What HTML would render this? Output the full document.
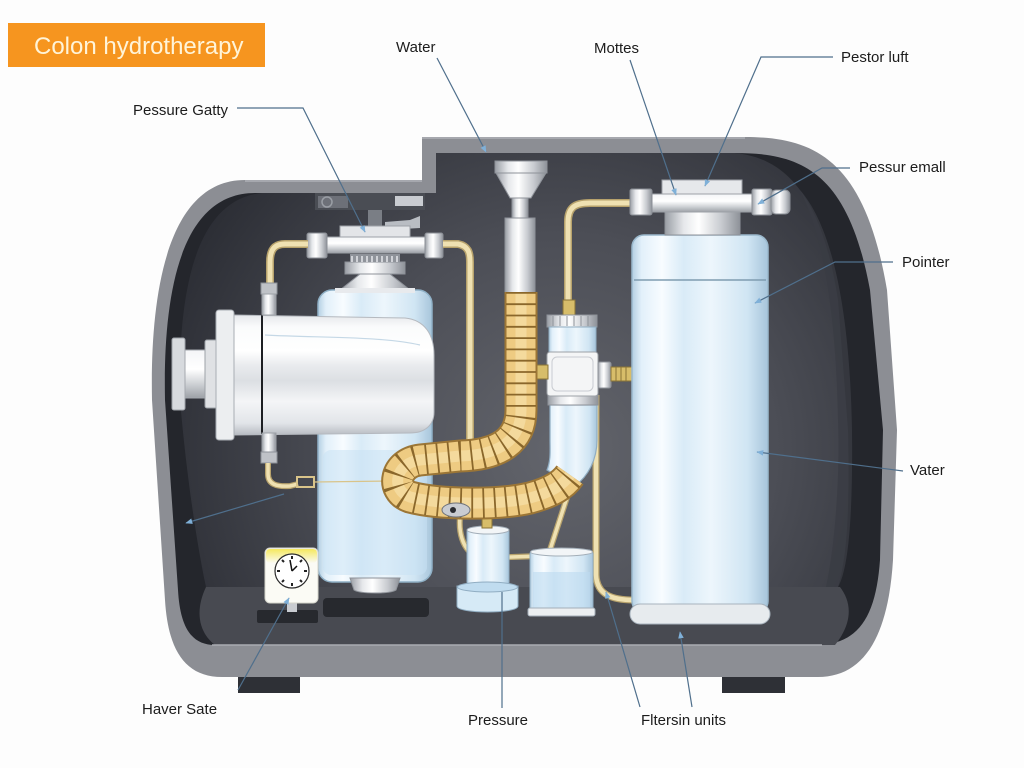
<!DOCTYPE html>
<html><head><meta charset="utf-8"><style>
html,body{margin:0;padding:0;background:#fdfdfd;}
svg{display:block}
text{font-family:"Liberation Sans",sans-serif;fill:#1c1c1c;font-size:15px}
</style></head><body>
<svg width="1024" height="768" viewBox="0 0 1024 768" xmlns="http://www.w3.org/2000/svg">
<defs>
 <radialGradient id="wall" cx="560" cy="450" r="430" gradientUnits="userSpaceOnUse">
  <stop offset="0" stop-color="#63656c"/>
  <stop offset="0.5" stop-color="#4c4e56"/>
  <stop offset="1" stop-color="#2a2c33"/>
 </radialGradient>
 <linearGradient id="glass" x1="0" x2="1" y1="0" y2="0">
  <stop offset="0" stop-color="#b4cfe2"/>
  <stop offset="0.07" stop-color="#e2f0fa"/>
  <stop offset="0.22" stop-color="#f8fcff"/>
  <stop offset="0.38" stop-color="#d9ebf7"/>
  <stop offset="0.58" stop-color="#edf6fc"/>
  <stop offset="0.85" stop-color="#d0e5f3"/>
  <stop offset="1" stop-color="#a7c5db"/>
 </linearGradient>
 <linearGradient id="metal" x1="0" x2="1" y1="0" y2="0">
  <stop offset="0" stop-color="#9a9ea5"/>
  <stop offset="0.25" stop-color="#e6e8eb"/>
  <stop offset="0.45" stop-color="#ffffff"/>
  <stop offset="0.75" stop-color="#c8cbd0"/>
  <stop offset="1" stop-color="#8e9299"/>
 </linearGradient>
 <linearGradient id="metalV" x1="0" x2="0" y1="0" y2="1">
  <stop offset="0" stop-color="#f4f5f7"/>
  <stop offset="0.4" stop-color="#ffffff"/>
  <stop offset="0.7" stop-color="#cfd2d6"/>
  <stop offset="1" stop-color="#9da1a7"/>
 </linearGradient>
 <linearGradient id="motor" x1="0" x2="0" y1="0" y2="1">
  <stop offset="0" stop-color="#e6e8eb"/>
  <stop offset="0.1" stop-color="#fafbfc"/>
  <stop offset="0.3" stop-color="#ffffff"/>
  <stop offset="0.42" stop-color="#e9ebee"/>
  <stop offset="0.55" stop-color="#dcdfe3"/>
  <stop offset="0.72" stop-color="#f4f5f7"/>
  <stop offset="0.9" stop-color="#e2e5e9"/>
  <stop offset="1" stop-color="#b7bbc1"/>
 </linearGradient>
 <linearGradient id="clockTop" x1="0" x2="0" y1="0" y2="1">
  <stop offset="0" stop-color="#f5e85e"/>
  <stop offset="1" stop-color="#fbfbf3"/>
 </linearGradient>
 <marker id="ar" viewBox="0 0 10 10" refX="9" refY="5" markerWidth="7" markerHeight="7" markerUnits="userSpaceOnUse" orient="auto">
  <path d="M0,1 L10,5 L0,9 Z" fill="#7fb0d8"/>
 </marker>
</defs>

<!-- title -->
<rect x="8" y="23" width="257" height="44" fill="#f6951f"/>
<text x="34" y="54" style="font-size:24px;fill:#fff4d8">Colon hydrotherapy</text>

<!-- housing -->
<path d="M245,180 L422,180 L422,137 L745,137 C815,137 865,160 887,290 L897,430 L893,560 C888,640 862,677 818,677 L222,677 C185,677 168,650 165,600 L152,400 C150,300 165,180 245,180 Z" fill="#8c8e94"/>
<path d="M245,181 L422,181 M422,138 L745,138" stroke="#a6a8ae" stroke-width="2" fill="none"/>
<!-- feet -->
<rect x="238" y="677" width="62" height="16" fill="#2e3036"/>
<rect x="722" y="677" width="63" height="16" fill="#2e3036"/>
<!-- inner dark -->
<path d="M255,193 L436,193 L436,153 L735,153 C800,153 848,170 870,290 L883,430 L880,560 C876,615 860,645 815,645 L215,645 C190,645 180,625 178,590 L165,400 C163,300 178,193 255,193 Z" fill="#24262c"/>
<!-- back wall -->
<path d="M262,193 L436,193 L436,153 L735,153 C785,158 822,195 838,300 L848,430 C850,520 846,560 838,587 L206,587 C196,540 186,470 180,400 C178,300 192,200 262,193 Z" fill="url(#wall)"/>
<!-- right medium band -->
<path d="M800,190 C835,230 850,320 852,430 C853,520 848,570 838,587 L826,587 C836,540 840,470 838,420 C836,320 825,240 800,190 Z" fill="#3a3c43" opacity="0.8"/>
<!-- floor -->
<path d="M206,587 L840,587 C850,600 855,620 835,645 L215,645 C198,632 195,610 206,587 Z" fill="#484a51"/>
<line x1="212" y1="645" x2="822" y2="645" stroke="#a9abb1" stroke-width="1.5"/>

<!-- floor items -->
<rect x="323" y="598" width="106" height="19" rx="4" fill="#27292e"/>
<rect x="257" y="610" width="61" height="13" rx="2" fill="#27292e"/>

<!-- cream tube right (behind tank) -->
<path d="M596,395 L596,575 C597,595 612,600 634,600" stroke="#b7a26c" stroke-width="7" fill="none"/>
<path d="M596,395 L596,575 C597,595 612,600 634,600" stroke="#efe1b2" stroke-width="4.5" fill="none"/>

<!-- left tank -->
<rect x="318" y="290" width="114" height="292" rx="14" fill="url(#glass)" stroke="#8fb0c6" stroke-width="1.5"/>
<rect x="323" y="450" width="104" height="125" rx="8" fill="#c8e2f4" opacity="0.55"/>
<path d="M350,578 L400,578 L396,590 C390,594 360,594 354,590 Z" fill="url(#metal)" stroke="#8e9299" stroke-width="1"/>
<!-- left tank neck -->
<path d="M360,274 L390,274 L410,290 L340,290 Z" fill="url(#metal)" stroke="#8e9299" stroke-width="1"/>
<rect x="335" y="288" width="80" height="5" fill="#e8eaed"/>
<rect x="345" y="262" width="60" height="12" fill="url(#metal)" stroke="#8e9299" stroke-width="1"/>
<rect x="350" y="254" width="50" height="8" fill="#8f939a"/>
<path d="M352,256 L352,262 M357,256 L357,262 M362,256 L362,262 M367,256 L367,262 M372,256 L372,262 M377,256 L377,262 M382,256 L382,262 M387,256 L387,262 M392,256 L392,262 M397,256 L397,262" stroke="#e6e8eb" stroke-width="1.5"/>
<!-- left top bracket -->
<rect x="315" y="193" width="110" height="17" fill="#4a4d54"/>
<rect x="318" y="196" width="30" height="12" fill="#6d7078"/>
<rect x="395" y="196" width="28" height="10" fill="#c9ccd1"/>
<circle cx="327" cy="202" r="5" fill="none" stroke="#9a9ea5" stroke-width="1.5"/>
<rect x="368" y="210" width="14" height="18" fill="#7a7e85"/>
<path d="M385,222 L410,220 L420,216 L420,228 L385,230 Z" fill="#b9bdc3"/>
<!-- left valve -->
<rect x="340" y="226" width="70" height="12" fill="#e3e5e8" stroke="#9da1a7" stroke-width="1"/>
<rect x="320" y="237" width="110" height="16" fill="url(#metalV)" stroke="#9da1a7" stroke-width="1"/>
<rect x="307" y="233" width="20" height="25" rx="2" fill="url(#metal)" stroke="#8a8e95" stroke-width="1"/>
<rect x="425" y="233" width="18" height="25" rx="2" fill="url(#metal)" stroke="#8a8e95" stroke-width="1"/>

<!-- left cream tubes -->
<path d="M308,244 L285,244 C274,244 270,250 270,262 L270,286" stroke="#b7a26c" stroke-width="8" fill="none"/>
<path d="M308,244 L285,244 C274,244 270,250 270,262 L270,286" stroke="#efe1b2" stroke-width="5" fill="none"/>
<path d="M443,244 L458,244 C468,246 470,252 470,262 L470,455" stroke="#b7a26c" stroke-width="8" fill="none"/>
<path d="M443,244 L458,244 C468,246 470,252 470,262 L470,455" stroke="#efe1b2" stroke-width="5" fill="none"/>

<!-- motor -->
<rect x="172" y="338" width="13" height="72" rx="2" fill="#d7dade" stroke="#9ea2a8" stroke-width="1"/>
<rect x="185" y="350" width="20" height="48" fill="url(#metalV)" stroke="#a4a8ae" stroke-width="1"/>
<rect x="205" y="340" width="12" height="68" rx="2" fill="#dfe1e4" stroke="#9ea2a8" stroke-width="1"/>
<path d="M232,315 L405,318 C425,320 434,335 434,355 L434,412 C434,425 425,433 410,433 L232,435 Z" fill="url(#motor)" stroke="#b5b9bf" stroke-width="1"/>
<path d="M265,335 C320,338 380,336 420,345" stroke="#c5d8e6" stroke-width="1.2" fill="none"/>
<rect x="216" y="310" width="18" height="130" rx="3" fill="#eceef0" stroke="#a9adb3" stroke-width="1"/>
<line x1="262" y1="314" x2="262" y2="434" stroke="#1d1f23" stroke-width="2"/>
<rect x="261" y="283" width="16" height="11" fill="#bfc2c7" stroke="#8e9299" stroke-width="1"/>
<rect x="262" y="294" width="14" height="21" fill="url(#metal)" stroke="#9da1a7" stroke-width="1"/>
<rect x="262" y="433" width="14" height="20" fill="url(#metal)" stroke="#9da1a7" stroke-width="1"/>
<rect x="261" y="452" width="16" height="11" fill="#bfc2c7" stroke="#8e9299" stroke-width="1"/>
<!-- motor bottom cream wire -->
<path d="M268,463 L268,474 C268,484 276,487 290,486 L298,484" stroke="#b7a26c" stroke-width="6" fill="none"/>
<path d="M268,463 L268,474 C268,484 276,487 290,486 L298,484" stroke="#efe1b2" stroke-width="3.5" fill="none"/>
<rect x="297" y="477" width="17" height="10" fill="none" stroke="#d9c48a" stroke-width="2"/>
<path d="M314,482 L395,481" stroke="#d9c48a" stroke-width="1.3" fill="none"/>

<!-- funnel -->
<rect x="495" y="161" width="52" height="12" fill="url(#metal)" stroke="#8e9299" stroke-width="1"/>
<path d="M496,173 L546,173 L531,198 L510,198 Z" fill="url(#metal)" stroke="#8e9299" stroke-width="1"/>
<rect x="512" y="198" width="16" height="20" fill="url(#metal)" stroke="#8e9299" stroke-width="1"/>
<rect x="505" y="218" width="30" height="75" fill="url(#metal)" stroke="#8e9299" stroke-width="1"/>

<!-- middle unit -->
<path d="M568,300 L568,222 C568,208 574,203 590,203 L630,203" stroke="#b7a26c" stroke-width="8" fill="none"/>
<path d="M568,300 L568,222 C568,208 574,203 590,203 L630,203" stroke="#efe1b2" stroke-width="5" fill="none"/>
<rect x="563" y="300" width="12" height="15" fill="#d7bd6a" stroke="#8a7436" stroke-width="1"/>
<rect x="547" y="315" width="50" height="12" fill="url(#metal)" stroke="#8e9299" stroke-width="1"/>
<path d="M553,316 L553,326 M560,316 L560,326 M567,316 L567,326 M574,316 L574,326 M581,316 L581,326 M588,316 L588,326" stroke="#8e9299" stroke-width="1"/>
<rect x="549" y="327" width="47" height="26" fill="url(#glass)" stroke="#90adc2" stroke-width="1"/>
<!-- elbow -->
<path d="M550,405 L597,405 L597,440 C597,460 588,476 575,486 L547,470 C551,460 550,450 550,440 Z" fill="url(#glass)" stroke="#90adc2" stroke-width="1.2"/>
<rect x="548" y="395" width="50" height="10" fill="url(#metal)" stroke="#8e9299" stroke-width="1"/>
<rect x="547" y="352" width="51" height="44" rx="3" fill="#f4f5f6" stroke="#9da1a7" stroke-width="1"/>
<rect x="552" y="357" width="41" height="34" rx="5" fill="none" stroke="#c9ccd1" stroke-width="1"/>
<rect x="534" y="365" width="14" height="14" fill="#d7bd6a" stroke="#8a7436" stroke-width="1"/>
<rect x="598" y="362" width="13" height="26" rx="2" fill="url(#metal)" stroke="#8e9299" stroke-width="1"/>
<rect x="611" y="367" width="21" height="14" fill="#d7bd6a" stroke="#8a7436" stroke-width="1"/>
<path d="M616,367 L616,381 M621,367 L621,381 M626,367 L626,381" stroke="#8a7436" stroke-width="1"/>

<!-- cups -->
<path d="M462,505 C456,530 462,552 480,558 L540,556" stroke="#b7a26c" stroke-width="6" fill="none"/>
<path d="M462,505 C456,530 462,552 480,558 L540,556" stroke="#efe1b2" stroke-width="3.5" fill="none"/>
<path d="M548,556 L572,482" stroke="#b7a26c" stroke-width="6" fill="none"/>
<path d="M548,556 L572,482" stroke="#efe1b2" stroke-width="3.5" fill="none"/>
<rect x="467" y="528" width="42" height="58" rx="4" fill="url(#glass)" stroke="#90adc2" stroke-width="1"/>
<ellipse cx="488" cy="530" rx="21" ry="4" fill="#f2f5f7" stroke="#a3aeb8" stroke-width="1"/>
<rect x="482" y="515" width="10" height="13" fill="#d7bd6a" stroke="#8a7436" stroke-width="1"/>
<path d="M457,586 L518,586 L518,606 C518,614 457,614 457,606 Z" fill="#d6eaf6" stroke="#90adc2" stroke-width="1"/>
<ellipse cx="487.5" cy="587" rx="30" ry="5" fill="#c0dcef" stroke="#90adc2" stroke-width="1"/>
<rect x="530" y="550" width="63" height="62" rx="4" fill="url(#glass)" stroke="#90adc2" stroke-width="1"/>
<rect x="533" y="572" width="57" height="38" fill="#bcdbf0" opacity="0.6"/>
<ellipse cx="561.5" cy="552" rx="31" ry="4" fill="#f2f5f7" stroke="#a3aeb8" stroke-width="1"/>
<rect x="528" y="608" width="67" height="8" rx="2" fill="#eceff1" stroke="#a3aeb8" stroke-width="1"/>

<!-- hose -->
<path d="M521,292 L521,410 C521,440 500,455 460,456 L420,460 C395,463 390,490 410,497 C440,505 500,505 530,498 C552,492 563,485 570,475" stroke="#9c7636" stroke-width="33" fill="none" stroke-linejoin="round"/>
<path d="M521,292 L521,410 C521,440 500,455 460,456 L420,460 C395,463 390,490 410,497 C440,505 500,505 530,498 C552,492 563,485 570,475" stroke="#eecb82" stroke-width="29" fill="none" stroke-linejoin="round"/>
<path d="M521,292 L521,410 C521,440 500,455 460,456 L420,460 C395,463 390,490 410,497 C440,505 500,505 530,498 C552,492 563,485 570,475" stroke="#f7e0a8" stroke-width="11" fill="none" opacity="0.7"/>
<path d="M521,292 L521,410 C521,440 500,455 460,456 L420,460 C395,463 390,490 410,497 C440,505 500,505 530,498 C552,492 563,485 570,475" stroke="#8a672b" stroke-width="30" fill="none" stroke-dasharray="1.8 9.5"/>
<ellipse cx="456" cy="510" rx="14" ry="7" fill="#c9ccd1" stroke="#6e7279" stroke-width="1"/>
<circle cx="453" cy="510" r="3" fill="#2a2c31"/>

<!-- right tank -->
<rect x="632" y="235" width="136" height="378" rx="12" fill="url(#glass)" stroke="#9ab8cc" stroke-width="1.5"/>
<line x1="634" y1="280" x2="766" y2="280" stroke="#7f9cb0" stroke-width="1.5"/>
<rect x="630" y="604" width="140" height="20" rx="10" fill="#e7ebee" stroke="#a8b3bd" stroke-width="1"/>
<!-- right valve -->
<rect x="665" y="212" width="75" height="23" fill="url(#metal)" stroke="#8e9299" stroke-width="1"/>
<rect x="662" y="180" width="80" height="15" fill="#e6e8eb" stroke="#9da1a7" stroke-width="1"/>
<rect x="645" y="194" width="115" height="18" fill="url(#metalV)" stroke="#9da1a7" stroke-width="1"/>
<rect x="630" y="189" width="22" height="26" rx="2" fill="url(#metal)" stroke="#8a8e95" stroke-width="1"/>
<rect x="752" y="189" width="20" height="26" rx="2" fill="url(#metal)" stroke="#8a8e95" stroke-width="1"/>
<rect x="771" y="190" width="19" height="24" rx="5" fill="url(#metal)" stroke="#8a8e95" stroke-width="1"/>

<!-- clock -->
<rect x="287" y="600" width="10" height="12" fill="#c9ccd1"/>
<rect x="265" y="548" width="53" height="55" rx="5" fill="#fbfbf5" stroke="#d5d5cc" stroke-width="1"/>
<rect x="266" y="549" width="51" height="14" rx="4" fill="url(#clockTop)"/>
<circle cx="292" cy="571" r="17" fill="#ffffff" stroke="#2a2a2a" stroke-width="1.2"/>
<g stroke="#222" stroke-width="2">
 <line x1="292" y1="556" x2="292" y2="559"/><line x1="292" y1="583" x2="292" y2="586"/>
 <line x1="277" y1="571" x2="280" y2="571"/><line x1="304" y1="571" x2="307" y2="571"/>
 <line x1="282" y1="560" x2="284" y2="562"/><line x1="302" y1="560" x2="300" y2="562"/>
 <line x1="282" y1="582" x2="284" y2="580"/><line x1="302" y1="582" x2="300" y2="580"/>
</g>
<path d="M292,571 L290,560 M292,571 L297,566" stroke="#111" stroke-width="1.5"/>

<!-- leader lines -->
<g stroke="#4f6f8c" stroke-width="1.2" fill="none">
 <path d="M437,58 L486,152" marker-end="url(#ar)"/>
 <path d="M237,108 L303,108 L365,232" marker-end="url(#ar)"/>
 <path d="M630,60 L676,195" marker-end="url(#ar)"/>
 <path d="M833,57 L761,57 L705,186" marker-end="url(#ar)"/>
 <path d="M850,168 L822,168 L758,204" marker-end="url(#ar)"/>
 <path d="M893,262 L835,262 L755,303" marker-end="url(#ar)"/>
 <path d="M903,471 L757,452" marker-end="url(#ar)"/>
 <path d="M284,494 L186,523" marker-end="url(#ar)"/>
 <path d="M238,690 L289,598" marker-end="url(#ar)"/>
 <path d="M502,708 L502,592"/>
 <path d="M640,707 L606,592" marker-end="url(#ar)"/>
 <path d="M692,707 L680,632" marker-end="url(#ar)"/>
</g>

<!-- labels -->
<text x="396" y="52">Water</text>
<text x="133" y="115">Pessure Gatty</text>
<text x="594" y="53">Mottes</text>
<text x="841" y="62">Pestor luft</text>
<text x="859" y="172">Pessur emall</text>
<text x="902" y="267">Pointer</text>
<text x="910" y="475">Vater</text>
<text x="142" y="714">Haver Sate</text>
<text x="468" y="725">Pressure</text>
<text x="641" y="725">Fltersin units</text>
</svg>
</body></html>
